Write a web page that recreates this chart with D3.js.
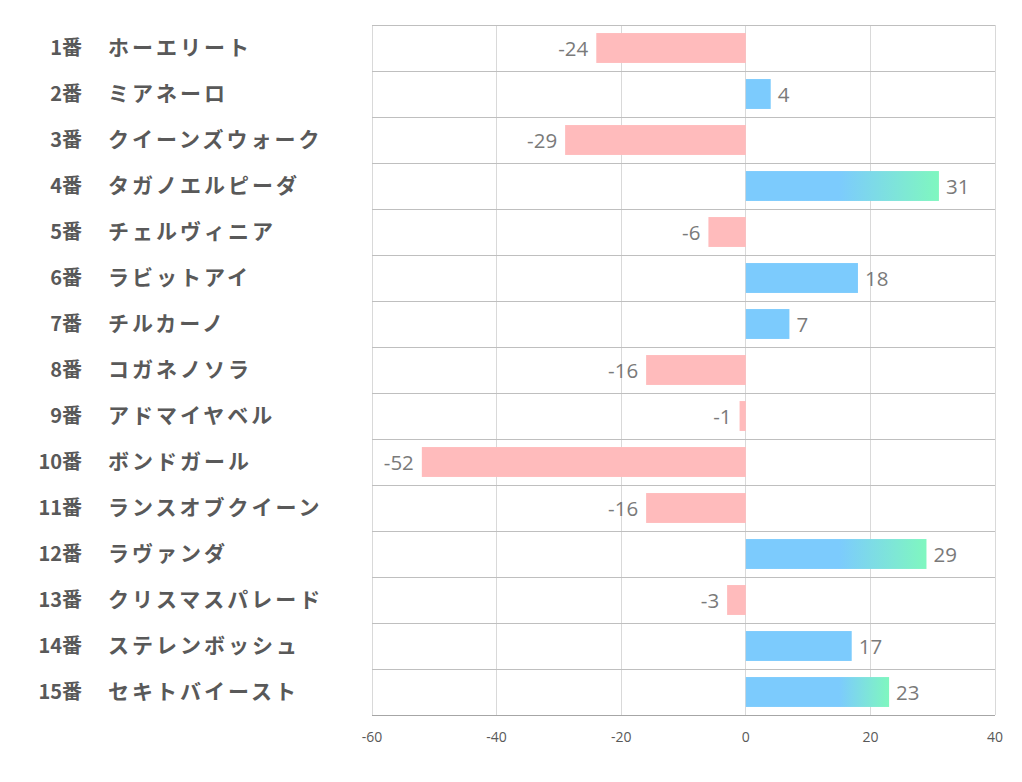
<!DOCTYPE html>
<html><head><meta charset="utf-8">
<script src="https://cdn.jsdelivr.net/npm/d3@7"></script>
<style>body{margin:0;background:#fff;} svg{display:block;}</style>
</head><body>
<script>
const numbers = ["1番","2番","3番","4番","5番","6番","7番","8番","9番","10番","11番","12番","13番","14番","15番"];
const names = ["ホーエリート","ミアネーロ","クイーンズウォーク","タガノエルピーダ","チェルヴィニア","ラビットアイ","チルカーノ","コガネノソラ","アドマイヤベル","ボンドガール","ランスオブクイーン","ラヴァンダ","クリスマスパレード","ステレンボッシュ","セキトバイースト"];
const values = [-24,4,-29,31,-6,18,7,-16,-1,-52,-16,29,-3,17,23];
const xTicks = [-60,-40,-20,0,20,40];

const W=1022,H=782;
const svg=d3.select("body").append("svg").attr("width",W).attr("height",H);
const x=d3.scaleLinear().domain([-60,40]).range([372,995]);
const y=d3.scaleBand().domain(d3.range(values.length)).range([25,715]).paddingInner(0.35).paddingOuter(0.175);
const rowY=d3.scaleBand().domain(d3.range(values.length)).range([25,715]);

const defs=svg.append("defs");
values.forEach((v,i)=>{
  if(v>20){
    const g=defs.append("linearGradient").attr("id","g"+i).attr("gradientUnits","userSpaceOnUse")
      .attr("x1",x(15)).attr("x2",x(v)).attr("y1",0).attr("y2",0);
    g.append("stop").attr("offset",0).attr("stop-color","#7CCBFD");
    g.append("stop").attr("offset",1).attr("stop-color","#7FF7BF");
  }
});

// grid
svg.append("g").selectAll("line").data(xTicks).join("line")
  .attr("x1",d=>x(d)).attr("x2",d=>x(d)).attr("y1",25).attr("y2",715)
  .attr("stroke","#d9d9d9").attr("stroke-width",1).attr("shape-rendering","crispEdges");
svg.append("g").selectAll("line").data(d3.range(values.length)).join("line")
  .attr("x1",x(-60)).attr("x2",x(40)).attr("y1",d=>rowY(d)).attr("y2",d=>rowY(d))
  .attr("stroke","#bfbfbf").attr("stroke-width",1).attr("shape-rendering","crispEdges");

// bars
svg.append("g").selectAll("rect").data(values).join("rect")
  .attr("x",d=>x(Math.min(0,d))).attr("width",d=>Math.abs(x(d)-x(0)))
  .attr("y",(d,i)=>y(i)).attr("height",y.bandwidth())
  .attr("fill",(d,i)=>d<0?"#FFBBBC":(d>20?`url(#g${i})`:"#7CCBFD"));

// value labels
svg.append("g").selectAll("text").data(values).join("text")
  .attr("x",d=>d<0?x(d)-8:x(d)+7)
  .attr("y",(d,i)=>y(i)+y.bandwidth()/2+1)
  .attr("dy","0.36em")
  .attr("text-anchor",d=>d<0?"end":"start")
  .attr("font-family","'Open Sans', sans-serif").attr("font-size",20.5).attr("fill","#7a7a7a")
  .text(d=>d);

// bottom axis
svg.append("line").attr("x1",x(-60)).attr("x2",x(40)).attr("y1",715).attr("y2",715)
  .attr("stroke","#a6a6a6").attr("shape-rendering","crispEdges");
svg.append("g").selectAll("text").data(xTicks).join("text")
  .attr("x",d=>x(d)).attr("y",742).attr("text-anchor","middle")
  .attr("font-family","'Open Sans',sans-serif").attr("font-size",14).attr("fill","#595959")
  .text(d=>d);

// row labels
const lab=svg.append("g").attr("font-family","'Noto Sans CJK JP',sans-serif").attr("font-weight","bold").attr("fill","#595959");
lab.selectAll("text.n").data(numbers).join("text").attr("class","n").attr("font-size",20)
  .attr("x",82).attr("y",(d,i)=>rowY(i)+rowY.bandwidth()/2).attr("dy","0.35em").attr("text-anchor","end").text(d=>d);
lab.selectAll("text.m").data(names).join("text").attr("class","m").attr("font-size",21).attr("letter-spacing",3)
  .attr("x",108).attr("y",(d,i)=>rowY(i)+rowY.bandwidth()/2).attr("dy","0.35em").attr("text-anchor","start").text(d=>d);
</script>
</body></html>
